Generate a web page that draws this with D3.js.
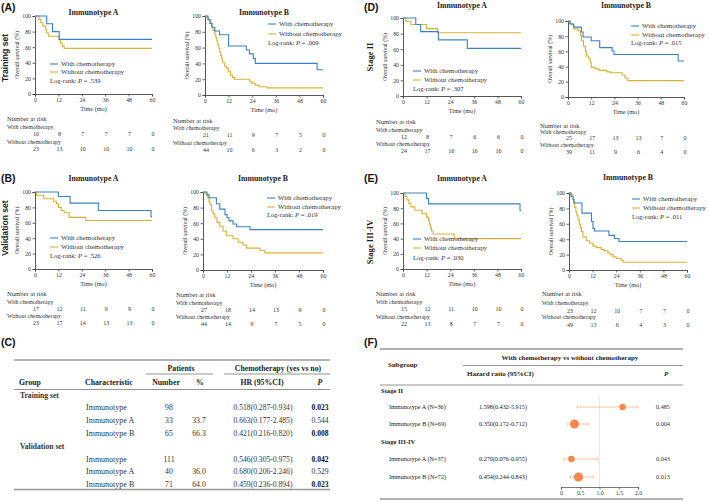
<!DOCTYPE html>
<html><head><meta charset="utf-8">
<script src="https://cdn.jsdelivr.net/npm/d3@7"></script>
<style>
body{margin:0;background:#fff}
svg{display:block}
text{font-family:"Liberation Serif",serif;fill:#333}
</style>
</head><body>
<svg id="c" width="709" height="502"></svg>
<script>
// ---------------- DATA ----------------
const timeTicks = [0, 12, 24, 36, 48, 60];
const survTicks = [0, 20, 40, 60, 80, 100];
const seriesNames = ["With chemotherapy", "Without chemotherapy"];

// KM curves: [time (mo), overall survival (%)]
const trainA_with = [[0,100],[6,90],[9,80],[12.4,70],[60,70]];
const trainA_without = [[0,100],[2,95.7],[3,91.3],[4,87],[5.5,82.6],[6,78.3],[7,74],[12.4,69.6],[13,65.2],[14,61],[15,58.5],[60,58.5]];
const trainB_with = [[0,100],[1.5,95.2],[2.5,90.5],[3.5,85.7],[5,81],[7.4,76.2],[12,62],[21,57],[22.6,52],[24.6,46],[25.6,40],[57,32],[60,32]];
const trainB_without = [[0,100],[1,97.7],[2,95.4],[3,90.9],[3.5,86.4],[4,81.8],[5,77.3],[5.5,72.7],[6,68.2],[6.5,63.6],[7,59.1],[7.5,54.5],[8,50],[8.5,45.5],[9,40.9],[10,36.4],[11,34],[12,29.5],[13,25],[14,22],[15,20],[22.6,17.5],[23.8,15],[25.5,12.5],[27.5,10.5],[31.5,9],[60,9]];
const validA_with = [[0,100],[12,94.1],[18,85.5],[32.5,76],[59.5,68],[60,68]];
const validA_without = [[0,100],[0.8,95.7],[4.5,91.3],[9.5,88],[11,85],[12,80],[13.5,76],[15,73],[17.5,67],[26,63],[60,63]];
const validB_with = [[0,100],[2,96.3],[3,92.6],[6.7,85],[8.4,78],[11,71],[12,67],[13,63],[15,59],[16.8,55.5],[23.5,51.8],[60,51.8]];
const validB_without = [[0,100],[1,97.7],[2,95.5],[2.5,92],[3,88],[3.5,84],[4.2,76],[5,72],[5.9,67],[7,61],[8.4,56],[10,50],[11.7,44],[15,40],[17.6,35.5],[20,32],[21.8,28],[28.5,25],[31,22],[60,22]];
const stage2A_with = [[0,100],[6.5,91.7],[9,82.5],[18,72],[32.7,61],[60,61]];
const stage2A_without = [[0,100],[1.5,95.8],[4,91.7],[12,86.4],[17.5,81],[60,81]];
const stage2B_with = [[0,100],[1,96],[3,92],[6.9,85.5],[7.8,79],[12,74],[16.4,65],[22.8,60.5],[23.8,56],[57,47.4],[60,47.4]];
const stage2B_without = [[0,100],[1,97.4],[2,94.9],[3,89.7],[5.2,87.2],[6.5,81],[7,74],[8,67],[9,60],[9.5,54],[10.5,51],[11.5,46],[12,39],[14,37],[16,35],[20,33],[22,32],[28,29],[29.5,25],[31,21.5],[60,21.5]];
const stage3A_with = [[0,100],[12,92.9],[13,85.7],[59.5,77],[60,77]];
const stage3A_without = [[0,100],[1,95.5],[2,91],[3,86.4],[4,81.8],[6,77.3],[9.7,72.7],[12,68.2],[13,63.6],[13.5,59],[14,54.5],[14.5,50],[15.3,46],[26,40],[60,40]];
const stage3B_with = [[0,100],[1,95.7],[2,91.3],[2.5,87],[6.6,73.9],[11.4,63],[12.2,54],[13,50.6],[20.3,45],[23.2,41],[25.4,37],[60,37]];
const stage3B_without = [[0,100],[1,98],[1.5,96],[2,91.8],[2.5,87.8],[2.9,81.6],[3.5,75.5],[4,71.4],[4.6,65.3],[5.2,59.2],[5.8,55],[6.3,50],[7.1,43],[8.8,38],[10.5,35],[12.2,31],[13.9,29],[16.4,26.5],[18,25],[19.8,22],[21,20],[22.4,17],[24,15],[26.6,12.5],[27.5,10],[60,10]];

// Numbers at risk at 0,12,24,36,48,60 months
const riskTrainA = [[10,8,7,7,7,0],[23,13,10,10,10,0]];
const riskTrainB = [[21,11,9,7,5,0],[44,10,6,3,2,0]];
const riskValidA = [[17,12,11,9,9,0],[23,17,14,13,13,0]];
const riskValidB = [[27,18,14,13,9,0],[44,14,9,7,5,0]];
const riskStage2A = [[12,8,7,6,6,0],[24,17,16,16,16,0]];
const riskStage2B = [[25,17,13,13,7,0],[39,11,9,6,4,0]];
const riskStage3A = [[15,12,11,10,10,0],[22,13,8,7,7,0]];
const riskStage3B = [[23,12,10,7,7,0],[49,13,6,4,3,0]];

const logrankP = [".539", ".009", ".526", ".019", ".307", ".015", ".030", ".011"];

// Table C
const tblGroups = ["Training set", "Validation set"];
const tblChar = ["Immunotype", "Immunotype A", "Immunotype B"];
const tblNumber = [["98","33","65"],["111","40","71"]];
const tblPct = [["", "33.7", "66.3"],["", "36.0", "64.0"]];
const tblHR = [["0.518(0.287-0.934)","0.663(0.177-2.485)","0.421(0.216-0.820)"],["0.546(0.305-0.975)","0.680(0.206-2.246)","0.459(0.236-0.894)"]];
const tblP = [["0.023","0.544","0.008"],["0.042","0.529","0.023"]];
const tblPBold = [[true,false,true],[true,false,true]];

// Forest F
const forestStages = ["Stage II", "Stage III-IV"];
const forestLabels = [["Immunotype A (N=36)","Immunotype B (N=69)"],["Immunotype A (N=37)","Immunotype B (N=72)"]];
const forestN = [[36,69],[37,72]];
const forestHR = [[1.598,0.350],[0.270,0.454]];
const forestLo = [[0.432,0.172],[0.076,0.244]];
const forestHi = [[5.915,0.712],[0.955,0.843]];
const forestP = [["0.485","0.004"],["0.043","0.013"]];
const forestTicks = [0, 0.5, 1.0, 1.5, 2.0];

// ---------------- DRAW ----------------
const svg = d3.select("#c");
svg.append("rect").attr("width",709).attr("height",502).attr("fill","#fff");
const BLUE = "#3a81c3", GOLD = "#d6b23a", AX = "#444";
const SANS = "Liberation Sans, Arial, sans-serif";

function txt(x, y, s, o = {}) {
  const t = svg.append("text").attr("x", x).attr("y", y).attr("dy", "0.35em")
    .attr("font-size", o.size || 7).attr("text-anchor", o.anchor || "start")
    .text(s);
  if (o.bold) t.attr("font-weight", "bold");
  if (o.italic) t.attr("font-style", "italic");
  if (o.family) t.style("font-family", o.family);
  t.style("fill", o.fill || "#333");
  if (o.rotate) t.attr("transform", `rotate(-90,${x},${y})`);
  return t;
}

const panels = [
  {title:"Immunotype A", curves:[trainA_with,trainA_without], risk:riskTrainA, p:logrankP[0],
   x0:35,x1:152,y0:16,y1:94, ty:12, lx:50, ly:[64,72], lry:81, rx:7, ry:[119,127,134,142,149]},
  {title:"Immunotype B", curves:[trainB_with,trainB_without], risk:riskTrainB, p:logrankP[1],
   x0:205,x1:323,y0:16,y1:95, ty:12, lx:268, ly:[24,34], lry:43, rx:173, ry:[121,128,135,143,150]},
  {title:"Immunotype A", curves:[validA_with,validA_without], risk:riskValidA, p:logrankP[2],
   x0:35,x1:152,y0:192,y1:269, ty:178, lx:50, ly:[238,247], lry:256, rx:7, ry:[294,302,309,316,323]},
  {title:"Immunotype B", curves:[validB_with,validB_without], risk:riskValidB, p:logrankP[3],
   x0:203,x1:323,y0:192,y1:270, ty:178, lx:267, ly:[198,207], lry:215, rx:176, ry:[295,303,310,317,324]},
  {title:"Immunotype A", curves:[stage2A_with,stage2A_without], risk:riskStage2A, p:logrankP[4],
   x0:403,x1:521,y0:18,y1:96, ty:5, lx:413, ly:[71,80], lry:89, rx:376, ry:[122,130,137,144,151]},
  {title:"Immunotype B", curves:[stage2B_with,stage2B_without], risk:riskStage2B, p:logrankP[5],
   x0:568,x1:684,y0:21,y1:97, ty:5, lx:631, ly:[26,35], lry:43, rx:540, ry:[126,132,138,145,152]},
  {title:"Immunotype A", curves:[stage3A_with,stage3A_without], risk:riskStage3A, p:logrankP[6],
   x0:403,x1:521,y0:193,y1:269, ty:178, lx:413, ly:[239,248], lry:258, rx:376, ry:[294,302,309,317,324]},
  {title:"Immunotype B", curves:[stage3B_with,stage3B_without], risk:riskStage3B, p:logrankP[7],
   x0:569,x1:687,y0:193,y1:270, ty:177, lx:632, ly:[199,208], lry:217, rx:542, ry:[294,303,311,317,325]}
];

panels.forEach(p => {
  const x = d3.scaleLinear().domain([0,60]).range([p.x0,p.x1]);
  const y = d3.scaleLinear().domain([0,100]).range([p.y1,p.y0]);
  const g = svg.append("g");
  const xa = g.append("g").attr("transform",`translate(0,${p.y1})`)
    .call(d3.axisBottom(x).tickValues(timeTicks).tickSize(2.5).tickPadding(1.5));
  const ya = g.append("g").attr("transform",`translate(${p.x0},0)`)
    .call(d3.axisLeft(y).tickValues(survTicks).tickSize(2.5).tickPadding(1.5));
  [xa, ya].forEach(a => {
    a.select(".domain").attr("stroke", AX).attr("stroke-width", 0.9);
    a.selectAll(".tick line").attr("stroke", AX).attr("stroke-width", 0.8);
    a.selectAll(".tick text").attr("font-size", 5.8).style("font-family","Liberation Serif").style("fill","#333");
  });
  const line = d3.line().x(d => x(d[0])).y(d => y(d[1])).curve(d3.curveStepAfter);
  [1, 0].forEach(idx => {
    g.append("path").datum(p.curves[idx]).attr("d", line).attr("fill","none")
      .attr("stroke", idx === 0 ? BLUE : GOLD).attr("stroke-width", 1.1);
  });
  // titles
  txt((p.x0+p.x1)/2, p.ty, p.title, {size:7.8, bold:true, anchor:"middle", fill:"#222"});
  txt((p.x0+p.x1)/2, p.y1+15, "Time (mo)", {size:6.2, anchor:"middle"});
  txt(p.x0-18, (p.y0+p.y1)/2, "Overall survival (%)", {size:5.8, anchor:"middle", rotate:true});
  // legend
  [BLUE, GOLD].forEach((c, i) => {
    g.append("line").attr("x1", p.lx).attr("x2", p.lx+8).attr("y1", p.ly[i]).attr("y2", p.ly[i])
      .attr("stroke", c).attr("stroke-width", 1.1);
    txt(p.lx+11, p.ly[i], seriesNames[i], {size:6.9});
  });
  const lt = txt(p.lx, p.lry, "Log-rank: ", {size:6.6});
  lt.append("tspan").attr("font-style","italic").text("P");
  lt.append("tspan").text(" = " + p.p);
  // risk table
  txt(p.rx, p.ry[0], "Number at risk", {size:6.6});
  txt(p.rx, p.ry[1], seriesNames[0], {size:5.9});
  txt(p.rx, p.ry[3], seriesNames[1], {size:5.9});
  p.risk.forEach((row, r) => {
    row.forEach((v, k) => txt(x(timeTicks[k]) + 1, p.ry[2 + r*2], String(v), {size:6, anchor:"middle"}));
  });
});

// panel letters & row labels
[["(A)",1,7],["(B)",1,178],["(C)",1,342],["(D)",364,7],["(E)",364,178],["(F)",364,342]]
  .forEach(d => txt(d[1], d[2], d[0], {size:10.5, bold:true, family:SANS, fill:"#111"}));
txt(5, 58, "Training set", {size:8.6, bold:true, family:SANS, anchor:"middle", rotate:true, fill:"#222"});
txt(5, 228, "Validation set", {size:8.6, bold:true, family:SANS, anchor:"middle", rotate:true, fill:"#222"});
txt(370, 57, "Stage II", {size:8.6, bold:true, anchor:"middle", rotate:true, fill:"#222"});
txt(370, 242, "Stage III-IV", {size:8.6, bold:true, anchor:"middle", rotate:true, fill:"#222"});

// ---------------- TABLE C ----------------
function hline(x1, x2, y, w, c) {
  svg.append("line").attr("x1",x1).attr("x2",x2).attr("y1",y).attr("y2",y)
    .attr("stroke", c || "#888").attr("stroke-width", w || 1);
}
hline(14, 330, 360, 1.6, "#999");
txt(181, 368, "Patients", {size:7.8, bold:true, anchor:"middle", fill:"#222"});
txt(278, 368, "Chemotherapy (yes vs no)", {size:7.8, bold:true, anchor:"middle", fill:"#222"});
hline(146, 213, 374, 0.8, "#777");
hline(224, 330, 374, 0.8, "#777");
txt(19, 382, "Group", {size:7.8, bold:true, fill:"#222"});
txt(85, 382, "Characteristic", {size:7.8, bold:true, fill:"#222"});
txt(166, 382, "Number", {size:7.8, bold:true, anchor:"middle", fill:"#222"});
txt(200, 382, "%", {size:7.8, bold:true, anchor:"middle", fill:"#222"});
txt(262, 382, "HR (95%CI)", {size:7.8, bold:true, anchor:"middle", fill:"#222"});
txt(320, 382, "P", {size:7.8, bold:true, italic:true, anchor:"middle", fill:"#222"});
hline(14, 330, 389.5, 0.8, "#777");
const rowY = [[407,420,433],[459,471,484]];
const grpY = [395, 446];
tblGroups.forEach((gname, gi) => {
  txt(20, grpY[gi], gname, {size:7.6, bold:true});
  tblChar.forEach((c, ri) => {
    const yy = rowY[gi][ri];
    txt(86, yy, c, {size:8});
    txt(169, yy, tblNumber[gi][ri], {size:7.8, anchor:"middle"});
    txt(199, yy, tblPct[gi][ri], {size:7.8, anchor:"middle"});
    txt(263, yy, tblHR[gi][ri], {size:7.6, anchor:"middle"});
    txt(320, yy, tblP[gi][ri], {size:7.6, anchor:"middle", bold:tblPBold[gi][ri], fill: tblPBold[gi][ri] ? "#111" : "#333"});
  });
});
hline(14, 330, 489.5, 1.6, "#999");

// ---------------- FOREST F ----------------
hline(380, 683, 349, 1.6, "#999");
txt(570, 357.5, "With chemotherapy vs without chemotherapy", {size:7, bold:true, anchor:"middle", fill:"#222"});
hline(463, 683, 365.5, 0.8, "#777");
txt(388, 365, "Subgroup", {size:7, bold:true, fill:"#222"});
txt(467, 374, "Hazard ratio (95%CI)", {size:7, bold:true, fill:"#222"});
txt(664, 374, "P", {size:7, bold:true, italic:true, fill:"#222"});
hline(380, 683, 385, 0.8, "#777");
const fx = d3.scaleLinear().domain([0,2]).range([561,638]);
const fr = d3.scaleSqrt().domain([0,72]).range([0,4.6]);
const ORANGE = "#f5894c", ORANGE_L = "#f7b48e";
svg.append("line").attr("x1",fx(1)).attr("x2",fx(1)).attr("y1",396).attr("y2",487)
  .attr("stroke","#f3e2da").attr("stroke-width",0.9);
const stageY = [391, 442];
const fRowY = [[407,424],[459,477]];
forestStages.forEach((s, si) => {
  txt(381, stageY[si], s, {size:6.6, bold:true, fill:"#222"});
  forestLabels[si].forEach((lab, ri) => {
    const yy = fRowY[si][ri];
    txt(389, yy, lab, {size:6.2, fill:"#222"});
    txt(479, yy, `${forestHR[si][ri].toFixed(3)}(${forestLo[si][ri].toFixed(3)}-${forestHi[si][ri].toFixed(3)})`, {size:6.2, fill:"#222"});
    txt(656, yy, forestP[si][ri], {size:6.2, fill:"#333"});
    const lo = fx(Math.max(0, forestLo[si][ri])), hi = fx(Math.min(2, forestHi[si][ri]));
    svg.append("line").attr("x1",lo).attr("x2",hi).attr("y1",yy).attr("y2",yy)
      .attr("stroke",ORANGE_L).attr("stroke-width",0.8);
    [lo, hi].forEach(v => svg.append("line").attr("x1",v).attr("x2",v).attr("y1",yy-1.5).attr("y2",yy+1.5)
      .attr("stroke",ORANGE_L).attr("stroke-width",0.8));
    svg.append("circle").attr("cx",fx(forestHR[si][ri])).attr("cy",yy).attr("r",fr(forestN[si][ri]))
      .attr("fill",ORANGE);
  });
});
const fa = svg.append("g").attr("transform","translate(0,487)")
  .call(d3.axisBottom(fx).tickValues(forestTicks).tickFormat(d => d === 0 ? "0" : d3.format(".1f")(d)).tickSize(2.5).tickPadding(1.5));
fa.select(".domain").attr("stroke","#555").attr("stroke-width",0.8);
fa.selectAll(".tick line").attr("stroke","#555").attr("stroke-width",0.8);
fa.selectAll(".tick text").attr("font-size",5.8).style("font-family","Liberation Serif").style("fill","#333");
hline(380, 683, 499, 1.6, "#999");
</script>
</body></html>
